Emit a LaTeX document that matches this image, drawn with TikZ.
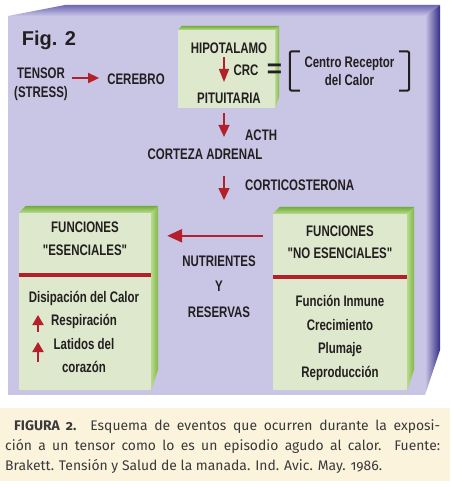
\documentclass[tikz,border=0pt]{standalone}
\usepackage{fontspec}
\setmainfont{Liberation Sans}
\newfontfamily\narrowfont{Liberation Sans}[FakeStretch=0.75]
\newfontfamily\captionfont{Fira Sans}[Numbers=OldStyle]
\usepackage{tikz}
\usetikzlibrary{arrows.meta,positioning}
\definecolor{panelfront}{HTML}{C9C5E4}
\definecolor{paneltop}{HTML}{6E69B4}
\definecolor{panelside}{HTML}{332E88}
\definecolor{boxfront}{HTML}{DDE8CC}
\definecolor{boxtop}{HTML}{6FAD36}
\definecolor{boxtoplight}{HTML}{B9D98F}
\definecolor{boxside}{HTML}{7DBA43}
\definecolor{boxsidelight}{HTML}{B8D88E}
\definecolor{diagred}{HTML}{B3202A}
\definecolor{diagink}{HTML}{231F20}
\definecolor{captionbg}{HTML}{FBF3DC}
\definecolor{captionink}{HTML}{3A3A3A}
\tikzset{
  fig-label/.style={font=\narrowfont\bfseries\fontsize{15.3}{23.5}\selectfont, text=diagink,
    align=center, inner sep=0pt},
  fig-box/.style={fill=boxfront, inner sep=0pt},
  fig-arrow/.style={draw=diagred, line width=1.6pt, -{Triangle[length=12pt,width=11pt]}},
  fig-big-arrow/.style={draw=diagred, line width=2.5pt, -{Triangle[length=15pt,width=13pt]}},
  fig-up-arrow/.style={draw=diagred, line width=2pt, -{Triangle[length=10pt,width=11pt]}},
  fig-rule/.style={draw=diagred, line width=3.5pt},
  fig-bracket/.style={draw=diagink, line width=2pt, rounded corners=2pt}
}

\begin{document}
\begin{tikzpicture}[x=1pt, y=-1pt]
  \useasboundingbox (0,0) rectangle (450,487);

  % Panel (front, top and side faces)
  \fill[panelfront] (8,16) rectangle (425,395);
  \shade[top color=paneltop, bottom color=panelfront] (8,16) -- (65,5) -- (440,5) -- (425,16) -- cycle;
  \shade[left color=panelfront, right color=panelside] (425,16) -- (440,5) -- (440,350) -- (425,395) -- cycle;

  % Caption
  \fill[captionbg] (0,408) rectangle (450,481);
  \node[anchor=north west, text width=435pt, align=justify, inner sep=0pt, text=captionink,
    font=\captionfont\fontsize{13.9}{20}\selectfont] (caption) at (5,419)
    {\hspace*{9pt}{\bfseries FIGURA 2.} Esquema de eventos que ocurren durante la exposi-\linebreak
     ción a un tensor como lo es un episodio agudo al calor. Fuente:\linebreak
     Brakett. Tensión y Salud de la manada. Ind. Avic. May. 1986.};

  \node[font=\bfseries\fontsize{20}{20}\selectfont, text=diagink, inner sep=0pt] (figno) at (49,40) {Fig. 2};

  % Boxes
  \node[fig-box, minimum width=97pt, minimum height=78pt] (hipo) at (226.5,69) {};
  \node[fig-box, minimum width=132pt, minimum height=177pt] (esen) at (85,301.5) {};
  \node[fig-box, minimum width=134pt, minimum height=176pt] (noesen) at (340,302) {};
  \foreach \b/\d in {hipo/4, esen/7, noesen/7} {
    \shade[top color=boxtop, bottom color=boxtoplight]
      (\b.north west) -- ++(\d,-\d) -- ([shift={(\d,-\d)}]\b.north east) -- (\b.north east) -- cycle;
    \shade[left color=boxsidelight, right color=boxside]
      (\b.north east) -- ++(\d,-\d) -- ([shift={(\d,-3*\d)}]\b.south east) -- (\b.south east) -- cycle;
  }

  % Top row
  \node[fig-label, font=\narrowfont\bfseries\fontsize{15.3}{19}\selectfont] (tensor) at (41,84) {TENSOR\\(STRESS)};
  \node[fig-label] (cerebro) at (136,79) {CEREBRO};
  \draw[fig-arrow, line width=1.5pt, -{Triangle[length=11pt,width=10pt]}, shorten <=4pt, shorten >=8pt]
    ([yshift=6pt]tensor.east) -- ([yshift=1pt]cerebro.west);

  \node[fig-label] (hipotalamo) at (229,48) {HIPOTALAMO};
  \node[fig-label] (crc) at (246,70) {CRC};
  \node[fig-label] (pituitaria) at (229,98) {PITUITARIA};
  \draw[fig-arrow, line width=1.5pt, -{Triangle[length=13pt,width=10pt]}, shorten <=3.5pt, shorten >=10.5pt]
    ([xshift=-5pt]hipotalamo.south) -- ([xshift=-5pt]pituitaria.north);

  \node[font=\bfseries\fontsize{26}{26}\selectfont, text=diagink, inner sep=0pt] (equals) at (274.5,71) {=};
  \node[fig-label, font=\narrowfont\bfseries\fontsize{15.3}{18}\selectfont, minimum width=119pt,
    minimum height=39pt] (recep) at (349.5,71) {Centro Receptor\\del Calor};
  \draw[fig-bracket] ([xshift=10pt]recep.north west) -- (recep.north west) -- (recep.south west) -- ([xshift=10pt]recep.south west);
  \draw[fig-bracket] ([xshift=-10pt]recep.north east) -- (recep.north east) -- (recep.south east) -- ([xshift=-10pt]recep.south east);

  % Middle column
  \node[fig-label] (corteza) at (205,154) {CORTEZA ADRENAL};
  \node[fig-label, anchor=west] (acth) at (245,135) {ACTH};
  \node[fig-label, anchor=west] (cortico) at (245,185) {CORTICOSTERONA};
  \coordinate (split) at (224,200);
  \draw[fig-arrow, shorten <=5pt, shorten >=11.5pt] ([xshift=-2.5pt]hipo.south) -- ([xshift=19pt]corteza.north);
  \draw[fig-arrow, shorten <=16.5pt] ([xshift=19pt]corteza.south) -- (split);

  % Essential functions
  \node[fig-label, font=\narrowfont\bfseries\fontsize{15.3}{23}\selectfont] (esen-title) at (85,238.5) {FUNCIONES\\"ESENCIALES"};
  \draw[fig-rule] ([yshift=-62pt]esen.north west) -- ([yshift=-62pt]esen.north east);
  \node[fig-label, font=\narrowfont\bfseries\fontsize{15.3}{23.3}\selectfont] (esen-list) at (84,332)
    {Disipación del Calor\\Respiración\\Latidos del\\corazón};
  \coordinate (resp-base) at (38,332);
  \coordinate (resp-tip) at (38,315);
  \coordinate (lat-base) at (38,362);
  \coordinate (lat-tip) at (38,342);
  \draw[fig-up-arrow] (resp-base) -- (resp-tip);
  \draw[fig-up-arrow] (lat-base) -- (lat-tip);

  % Non essential functions
  \node[fig-label, font=\narrowfont\bfseries\fontsize{15.3}{22}\selectfont] (noesen-title) at (340,242) {FUNCIONES\\"NO ESENCIALES"};
  \draw[fig-rule] ([yshift=-63pt]noesen.north west) -- ([yshift=-63pt]noesen.north east);
  \node[fig-label, font=\narrowfont\bfseries\fontsize{15.3}{23.6}\selectfont] (noesen-list) at (340,338)
    {Función Inmune\\Crecimiento\\Plumaje\\Reproducción};

  % Nutrients flow
  \node[fig-label, font=\narrowfont\bfseries\fontsize{15.3}{25.5}\selectfont] (nutri) at (219,286.5) {NUTRIENTES\\Y\\RESERVAS};
  \draw[fig-big-arrow] ([shift={(-10,22)}]noesen.north west) -- ([shift={(16,23)}]esen.north east);
\end{tikzpicture}
\end{document}
